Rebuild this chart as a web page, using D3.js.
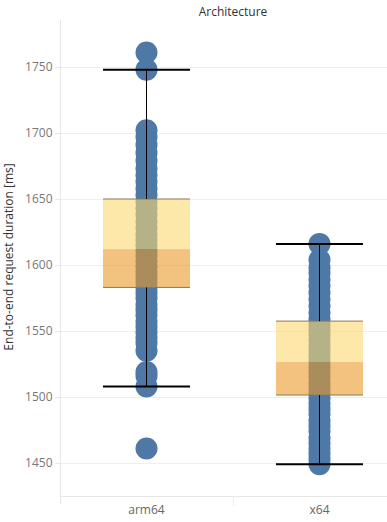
<!DOCTYPE html>
<html>
<head>
<meta charset="utf-8">
<script src="https://cdn.jsdelivr.net/npm/d3@7"></script>
<style>
  html, body { margin: 0; padding: 0; background: #fff; }
  svg { display: block; font-family: "Open Sans", sans-serif; }
</style>
</head>
<body>
<svg id="chart" width="387" height="522"></svg>
<script>
const title = "Architecture";
const yLabel = "End-to-end request duration [ms]";
const categories = ["arm64", "x64"];
const yTicks = [1450, 1500, 1550, 1600, 1650, 1700, 1750];

const arm64Values = [1761, 1748, 1702, 1697, 1691, 1685, 1679, 1673, 1668, 1663, 1658, 1653,
  1648, 1643, 1638, 1633, 1628, 1623, 1619, 1615, 1611, 1607, 1603, 1599, 1595, 1591, 1587,
  1583, 1579, 1575, 1570, 1566, 1562, 1557, 1553, 1549, 1545, 1541, 1535, 1519, 1516, 1508, 1461];
const x64Values = [1616, 1604, 1598, 1594, 1589, 1584, 1579, 1574, 1569, 1564, 1559, 1555,
  1551, 1547, 1543, 1539, 1535, 1531, 1527, 1523, 1519, 1515, 1511, 1507, 1503, 1499, 1495,
  1491, 1487, 1482, 1478, 1474, 1469, 1465, 1461, 1457, 1453, 1449];
const seriesValues = [arm64Values, x64Values];

// box plot statistics per category
const whiskerLow = [1508, 1449];
const q1 = [1583, 1501.5];
const median = [1612, 1526.5];
const q3 = [1650, 1557.5];
const whiskerHigh = [1748, 1616];

const svg = d3.select("#chart");
const plotLeft = 60, plotTop = 20, plotBottom = 496;

const x = d3.scaleBand().domain(categories).range([plotLeft, 406]).padding(0);
const y = d3.scaleLinear().domain([1425, 1785.6]).range([plotBottom, plotTop]);

// title
svg.append("text").attr("x", 233).attr("y", 16).attr("text-anchor", "middle")
  .attr("font-size", 12).attr("fill", "#333").text(title);

// gridlines
svg.append("g").selectAll("line").data(yTicks).join("line")
  .attr("x1", plotLeft).attr("x2", 387)
  .attr("y1", d => Math.round(y(d)) + 0.5).attr("y2", d => Math.round(y(d)) + 0.5)
  .attr("stroke", "#eeeeee").attr("stroke-width", 1);

// y axis
const yAxis = svg.append("g").attr("transform", `translate(${plotLeft + 0.5},0)`)
  .call(d3.axisLeft(y).tickValues(yTicks).tickFormat(d3.format("d")).tickSize(5).tickPadding(3));
yAxis.select(".domain").attr("d", `M0,${plotTop}V${plotBottom + 8}`).attr("stroke", "#e6e6e6");
yAxis.selectAll(".tick line").attr("stroke", "#e6e6e6");
yAxis.selectAll(".tick text").attr("font-size", 12).attr("fill", "#777")
  .attr("font-family", "Open Sans, sans-serif");

svg.append("text")
  .attr("transform", `translate(13,257) rotate(-90)`)
  .attr("text-anchor", "middle").attr("font-size", 12).attr("fill", "#333").text(yLabel);

// x axis
const xAxis = svg.append("g").attr("transform", `translate(0,${plotBottom + 0.5})`)
  .call(d3.axisBottom(x).tickSize(0).tickPadding(9));
xAxis.select(".domain").attr("d", `M${plotLeft},0H387`).attr("stroke", "#e6e6e6");
xAxis.selectAll(".tick text").attr("font-size", 12).attr("fill", "#666")
  .attr("font-family", "Open Sans, sans-serif");
svg.append("line").attr("x1", x("x64") + 0.5).attr("x2", x("x64") + 0.5)
  .attr("y1", plotBottom).attr("y2", plotBottom + 10).attr("stroke", "#eeeeee");

// dots
const dots = svg.append("g");
categories.forEach((c, i) => {
  dots.selectAll(null).data(seriesValues[i]).join("circle")
    .attr("cx", x(c) + x.bandwidth() / 2).attr("cy", d => y(d)).attr("r", 11)
    .attr("fill", "#4e79a7");
});

// boxes
const boxW = x.bandwidth() * 0.503;
const boxes = svg.append("g");
categories.forEach((c, i) => {
  const cx = x(c) + x.bandwidth() / 2;
  const left = cx - boxW / 2;
  boxes.append("rect").attr("x", left).attr("width", boxW)
    .attr("y", y(q3[i])).attr("height", y(median[i]) - y(q3[i]))
    .attr("fill", "rgb(252,217,113)").attr("fill-opacity", 0.6);
  boxes.append("rect").attr("x", left).attr("width", boxW)
    .attr("y", y(median[i])).attr("height", y(q1[i]) - y(median[i]))
    .attr("fill", "rgb(233,153,40)").attr("fill-opacity", 0.6);
  [q3[i], q1[i]].forEach(v => {
    boxes.append("line").attr("x1", left).attr("x2", left + boxW)
      .attr("y1", y(v)).attr("y2", y(v)).attr("stroke", "#8a7a5a").attr("stroke-width", 1);
  });
  boxes.append("line").attr("x1", cx).attr("x2", cx)
    .attr("y1", y(whiskerHigh[i])).attr("y2", y(q3[i])).attr("stroke", "#000").attr("stroke-width", 1);
  boxes.append("line").attr("x1", cx).attr("x2", cx)
    .attr("y1", y(q1[i])).attr("y2", y(whiskerLow[i])).attr("stroke", "#000").attr("stroke-width", 1);
  [whiskerHigh[i], whiskerLow[i]].forEach(v => {
    boxes.append("line").attr("x1", left).attr("x2", left + boxW)
      .attr("y1", y(v)).attr("y2", y(v)).attr("stroke", "#000").attr("stroke-width", 2);
  });
});
</script>
</body>
</html>
